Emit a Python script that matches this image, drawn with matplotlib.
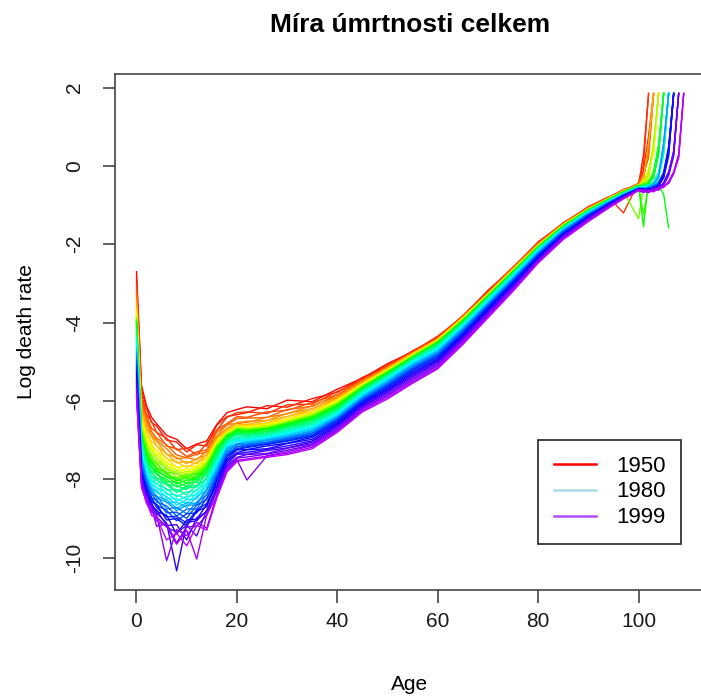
import numpy as np
import matplotlib
matplotlib.use("Agg")
import matplotlib.pyplot as plt
from matplotlib.colors import hsv_to_rgb
from matplotlib.lines import Line2D

plt.rcParams['font.family'] = ['Liberation Sans', 'DejaVu Sans']
plt.rcParams['axes.unicode_minus'] = False

# años y edades
years = list(range(1950, 2000))
ages_child = [0, 1, 2, 3, 4, 6, 8, 10, 12, 14, 16, 18, 20]
ages_adult = [22, 26, 30, 35, 40, 45, 50, 55, 60, 65, 70, 75, 80, 85, 90]
ages_old = [94, 97, 100, 101, 102, 103, 104, 105, 106, 107, 108, 109]

# log tasa de mortalidad, una fila por año (1950..1999)
rate_child = [
    [-2.70, -5.60, -6.13, -6.42, -6.58, -6.88, -6.98, -7.22, -7.10, -7.02, -6.60, -6.30, -6.22],
    [-2.85, -5.72, -6.18, -6.55, -6.64, -7.00, -7.05, -7.30, -7.12, -7.15, -6.62, -6.40, -6.35],
    [-2.98, -5.82, -6.35, -6.52, -6.80, -6.95, -7.25, -7.20, -7.38, -7.08, -6.75, -6.42, -6.30],
    [-3.10, -5.95, -6.40, -6.70, -6.80, -7.15, -7.22, -7.42, -7.30, -7.25, -6.74, -6.58, -6.40],
    [-3.20, -6.05, -6.44, -6.78, -6.95, -7.12, -7.38, -7.45, -7.36, -7.30, -6.80, -6.62, -6.45],
    [-3.32, -6.12, -6.52, -6.86, -7.00, -7.22, -7.48, -7.45, -7.50, -7.28, -6.90, -6.60, -6.58],
    [-3.42, -6.20, -6.60, -6.92, -7.02, -7.36, -7.44, -7.60, -7.48, -7.38, -6.92, -6.70, -6.55],
    [-3.50, -6.28, -6.72, -6.90, -7.15, -7.35, -7.58, -7.55, -7.60, -7.36, -6.98, -6.72, -6.62],
    [-3.60, -6.35, -6.80, -7.05, -7.14, -7.48, -7.55, -7.70, -7.56, -7.45, -7.00, -6.76, -6.65],
    [-3.68, -6.45, -6.85, -7.12, -7.28, -7.46, -7.70, -7.66, -7.68, -7.44, -7.05, -6.80, -6.62],
    [-3.76, -6.52, -6.88, -7.20, -7.26, -7.60, -7.68, -7.82, -7.65, -7.54, -7.02, -6.82, -6.70],
    [-3.80, -6.55, -6.98, -7.18, -7.40, -7.55, -7.80, -7.74, -7.76, -7.50, -7.10, -6.84, -6.66],
    [-3.82, -6.60, -7.02, -7.28, -7.35, -7.68, -7.75, -7.88, -7.70, -7.58, -7.08, -6.80, -6.72],
    [-3.86, -6.64, -7.08, -7.26, -7.48, -7.64, -7.88, -7.80, -7.82, -7.55, -7.14, -6.86, -6.68],
    [-3.88, -6.68, -7.12, -7.38, -7.45, -7.76, -7.80, -7.95, -7.75, -7.64, -7.12, -6.88, -6.74],
    [-3.90, -6.72, -7.14, -7.44, -7.55, -7.72, -7.95, -7.86, -7.88, -7.60, -7.18, -6.85, -6.75],
    [-3.93, -6.75, -7.22, -7.40, -7.62, -7.82, -7.86, -8.00, -7.80, -7.68, -7.14, -6.90, -6.70],
    [-3.95, -6.78, -7.20, -7.52, -7.58, -7.88, -7.98, -7.90, -7.95, -7.62, -7.20, -6.86, -6.76],
    [-3.97, -6.80, -7.30, -7.50, -7.70, -7.82, -8.04, -7.92, -7.85, -7.72, -7.16, -6.92, -6.72],
    [-3.98, -6.84, -7.34, -7.54, -7.72, -7.86, -8.05, -7.96, -7.98, -7.66, -7.24, -6.88, -6.77],
    [-4.00, -6.86, -7.38, -7.58, -7.76, -7.95, -7.98, -8.10, -7.88, -7.76, -7.20, -6.93, -6.74],
    [-4.06, -6.90, -7.36, -7.68, -7.80, -7.92, -8.12, -8.02, -8.00, -7.74, -7.28, -6.90, -6.80],
    [-4.12, -6.92, -7.46, -7.66, -7.84, -8.06, -8.08, -8.18, -7.96, -7.82, -7.26, -6.96, -6.78],
    [-4.16, -6.95, -7.50, -7.70, -7.88, -8.00, -8.20, -8.10, -8.08, -7.80, -7.35, -6.94, -6.84],
    [-4.22, -6.98, -7.54, -7.80, -7.85, -8.14, -8.16, -8.26, -8.02, -7.90, -7.32, -6.98, -6.82],
    [-4.26, -7.02, -7.52, -7.84, -7.96, -8.10, -8.30, -8.18, -8.16, -7.86, -7.40, -7.00, -6.86],
    [-4.31, -7.06, -7.64, -7.82, -8.02, -8.14, -8.34, -8.22, -8.20, -7.96, -7.44, -7.03, -6.86],
    [-4.36, -7.12, -7.62, -7.95, -8.00, -8.28, -8.26, -8.40, -8.15, -8.00, -7.45, -7.06, -6.92],
    [-4.40, -7.16, -7.74, -7.92, -8.12, -8.24, -8.45, -8.32, -8.30, -7.98, -7.52, -7.08, -6.92],
    [-4.46, -7.22, -7.78, -8.04, -8.10, -8.38, -8.40, -8.50, -8.26, -8.10, -7.55, -7.10, -6.98],
    [-4.50, -7.26, -7.84, -8.02, -8.22, -8.34, -8.55, -8.44, -8.40, -8.08, -7.60, -7.12, -6.96],
    [-4.57, -7.32, -7.80, -8.14, -8.20, -8.48, -8.50, -8.62, -8.36, -8.18, -7.60, -7.16, -7.02],
    [-4.63, -7.36, -7.92, -8.12, -8.34, -8.44, -8.66, -8.52, -8.50, -8.15, -7.68, -7.18, -7.02],
    [-4.68, -7.42, -7.90, -8.25, -8.28, -8.60, -8.58, -8.72, -8.44, -8.28, -7.68, -7.22, -7.08],
    [-4.75, -7.46, -8.00, -8.22, -8.44, -8.52, -8.74, -8.60, -8.62, -8.24, -7.76, -7.20, -7.10],
    [-4.80, -7.52, -8.04, -8.28, -8.48, -8.58, -8.80, -8.66, -8.66, -8.28, -7.80, -7.26, -7.12],
    [-4.88, -7.58, -8.00, -8.40, -8.42, -8.76, -8.72, -8.88, -8.58, -8.40, -7.84, -7.30, -7.10],
    [-4.97, -7.64, -8.12, -8.35, -8.58, -8.68, -8.94, -8.76, -8.76, -8.38, -7.90, -7.34, -7.16],
    [-5.05, -7.70, -8.16, -8.48, -8.52, -8.86, -8.84, -9.00, -8.66, -8.52, -7.92, -7.38, -7.18],
    [-5.12, -7.76, -8.14, -8.52, -8.66, -8.80, -9.06, -8.88, -8.86, -8.48, -7.98, -7.40, -7.22],
    [-5.20, -7.82, -8.24, -8.46, -8.72, -8.96, -8.95, -9.12, -8.78, -8.62, -8.02, -7.42, -7.24],
    [-5.28, -7.85, -8.30, -8.58, -8.64, -9.04, -9.00, -9.20, -8.82, -8.70, -8.04, -7.48, -7.25],
    [-5.36, -7.90, -8.28, -8.64, -8.82, -8.92, -9.40, -9.04, -9.02, -8.64, -8.14, -7.52, -7.32],
    [-5.44, -7.94, -8.40, -8.60, -8.86, -9.12, -10.34, -9.10, -9.06, -8.80, -8.20, -7.56, -7.35],
    [-5.52, -7.98, -8.36, -8.72, -8.78, -9.18, -9.16, -9.55, -8.98, -8.84, -8.24, -7.62, -7.36],
    [-5.60, -8.02, -8.50, -8.66, -8.96, -9.22, -9.36, -9.18, -9.45, -8.78, -8.30, -7.66, -7.44],
    [-5.68, -8.06, -8.54, -8.70, -9.20, -9.14, -9.62, -9.22, -9.20, -8.92, -8.30, -7.70, -7.46],
    [-5.76, -8.12, -8.50, -8.84, -8.90, -10.08, -9.28, -9.44, -9.10, -9.25, -8.40, -7.74, -7.50],
    [-5.84, -8.16, -8.62, -8.78, -9.06, -9.20, -9.66, -9.30, -10.04, -8.90, -8.44, -7.78, -7.52],
    [-5.90, -8.22, -8.58, -8.92, -8.98, -9.55, -9.38, -9.70, -9.18, -9.30, -8.48, -7.82, -7.55],
]

rate_adult = [
    [-6.15, -6.20, -5.98, -6.02, -5.70, -5.42, -5.05, -4.74, -4.35, -3.84, -3.18, -2.60, -1.94, -1.47, -1.04],
    [-6.30, -6.12, -6.16, -5.94, -5.78, -5.40, -5.12, -4.72, -4.40, -3.82, -3.22, -2.58, -1.97, -1.45, -1.07],
    [-6.28, -6.32, -6.10, -6.08, -5.76, -5.46, -5.08, -4.76, -4.37, -3.85, -3.21, -2.61, -1.96, -1.48, -1.05],
    [-6.42, -6.28, -6.24, -6.04, -5.84, -5.45, -5.13, -4.75, -4.38, -3.86, -3.23, -2.59, -1.99, -1.46, -1.08],
    [-6.44, -6.42, -6.22, -6.14, -5.84, -5.50, -5.12, -4.77, -4.40, -3.84, -3.24, -2.62, -1.98, -1.48, -1.06],
    [-6.55, -6.42, -6.33, -6.12, -5.89, -5.49, -5.15, -4.78, -4.41, -3.86, -3.25, -2.62, -2.01, -1.49, -1.08],
    [-6.52, -6.50, -6.32, -6.20, -5.91, -5.51, -5.16, -4.78, -4.42, -3.86, -3.26, -2.63, -2.00, -1.49, -1.09],
    [-6.60, -6.50, -6.40, -6.20, -5.94, -5.54, -5.17, -4.79, -4.43, -3.88, -3.26, -2.64, -2.02, -1.49, -1.09],
    [-6.62, -6.56, -6.40, -6.26, -5.96, -5.55, -5.19, -4.81, -4.44, -3.89, -3.27, -2.65, -2.02, -1.50, -1.10],
    [-6.64, -6.58, -6.46, -6.28, -5.97, -5.57, -5.20, -4.82, -4.45, -3.89, -3.28, -2.65, -2.03, -1.50, -1.10],
    [-6.68, -6.60, -6.50, -6.31, -6.01, -5.58, -5.21, -4.83, -4.46, -3.90, -3.29, -2.66, -2.04, -1.51, -1.11],
    [-6.66, -6.65, -6.48, -6.33, -6.00, -5.60, -5.22, -4.83, -4.47, -3.91, -3.29, -2.67, -2.03, -1.51, -1.10],
    [-6.70, -6.62, -6.52, -6.34, -6.03, -5.61, -5.22, -4.84, -4.47, -3.92, -3.29, -2.67, -2.04, -1.51, -1.11],
    [-6.69, -6.67, -6.53, -6.33, -6.04, -5.61, -5.23, -4.84, -4.47, -3.92, -3.30, -2.67, -2.04, -1.52, -1.11],
    [-6.72, -6.66, -6.55, -6.36, -6.05, -5.62, -5.24, -4.85, -4.48, -3.93, -3.30, -2.68, -2.05, -1.51, -1.11],
    [-6.74, -6.68, -6.56, -6.37, -6.06, -5.63, -5.25, -4.86, -4.48, -3.93, -3.31, -2.68, -2.05, -1.52, -1.12],
    [-6.73, -6.70, -6.55, -6.38, -6.08, -5.63, -5.25, -4.86, -4.49, -3.94, -3.31, -2.69, -2.06, -1.53, -1.11],
    [-6.75, -6.69, -6.57, -6.40, -6.09, -5.64, -5.26, -4.87, -4.49, -3.94, -3.31, -2.69, -2.06, -1.53, -1.12],
    [-6.74, -6.71, -6.56, -6.40, -6.10, -5.65, -5.27, -4.87, -4.50, -3.94, -3.32, -2.69, -2.06, -1.53, -1.12],
    [-6.76, -6.72, -6.58, -6.41, -6.11, -5.65, -5.27, -4.88, -4.50, -3.95, -3.32, -2.70, -2.07, -1.54, -1.12],
    [-6.77, -6.71, -6.59, -6.43, -6.12, -5.66, -5.28, -4.89, -4.51, -3.95, -3.33, -2.70, -2.07, -1.54, -1.13],
    [-6.79, -6.73, -6.61, -6.45, -6.13, -5.68, -5.29, -4.90, -4.52, -3.96, -3.34, -2.71, -2.08, -1.55, -1.13],
    [-6.80, -6.77, -6.62, -6.46, -6.16, -5.69, -5.30, -4.90, -4.54, -3.97, -3.34, -2.72, -2.08, -1.55, -1.13],
    [-6.82, -6.78, -6.65, -6.48, -6.18, -5.70, -5.32, -4.91, -4.54, -3.98, -3.35, -2.72, -2.09, -1.56, -1.14],
    [-6.85, -6.80, -6.66, -6.50, -6.20, -5.71, -5.33, -4.92, -4.56, -3.99, -3.36, -2.73, -2.10, -1.56, -1.14],
    [-6.87, -6.81, -6.69, -6.53, -6.22, -5.73, -5.34, -4.93, -4.57, -4.00, -3.37, -2.74, -2.10, -1.57, -1.15],
    [-6.88, -6.85, -6.70, -6.55, -6.24, -5.74, -5.36, -4.94, -4.59, -4.02, -3.38, -2.75, -2.11, -1.58, -1.15],
    [-6.92, -6.85, -6.74, -6.57, -6.26, -5.76, -5.37, -4.96, -4.60, -4.03, -3.39, -2.76, -2.12, -1.58, -1.16],
    [-6.93, -6.89, -6.75, -6.61, -6.28, -5.78, -5.39, -4.97, -4.62, -4.05, -3.41, -2.77, -2.13, -1.59, -1.17],
    [-6.96, -6.90, -6.78, -6.62, -6.30, -5.80, -5.40, -4.99, -4.64, -4.06, -3.42, -2.79, -2.14, -1.59, -1.17],
    [-6.99, -6.93, -6.80, -6.66, -6.32, -5.82, -5.42, -5.01, -4.66, -4.08, -3.44, -2.80, -2.15, -1.60, -1.18],
    [-7.00, -6.95, -6.83, -6.68, -6.34, -5.84, -5.44, -5.02, -4.68, -4.10, -3.45, -2.82, -2.16, -1.61, -1.19],
    [-7.03, -6.96, -6.86, -6.70, -6.36, -5.86, -5.46, -5.04, -4.70, -4.12, -3.47, -2.83, -2.18, -1.62, -1.20],
    [-7.04, -6.99, -6.87, -6.73, -6.38, -5.88, -5.48, -5.06, -4.72, -4.13, -3.49, -2.85, -2.19, -1.63, -1.20],
    [-7.07, -7.00, -6.90, -6.76, -6.40, -5.90, -5.50, -5.08, -4.74, -4.15, -3.50, -2.86, -2.21, -1.64, -1.21],
    [-7.09, -7.01, -6.93, -6.78, -6.42, -5.92, -5.53, -5.10, -4.76, -4.17, -3.52, -2.88, -2.22, -1.65, -1.22],
    [-7.10, -7.05, -6.94, -6.81, -6.44, -5.94, -5.55, -5.13, -4.79, -4.19, -3.54, -2.90, -2.24, -1.66, -1.23],
    [-7.13, -7.06, -6.97, -6.83, -6.46, -5.96, -5.57, -5.15, -4.81, -4.21, -3.56, -2.92, -2.25, -1.68, -1.24],
    [-7.14, -7.09, -6.98, -6.86, -6.48, -5.98, -5.60, -5.17, -4.83, -4.24, -3.58, -2.93, -2.27, -1.69, -1.26],
    [-7.17, -7.10, -7.01, -6.88, -6.50, -6.00, -5.62, -5.20, -4.86, -4.26, -3.60, -2.95, -2.28, -1.71, -1.27],
    [-7.19, -7.11, -7.03, -6.90, -6.52, -6.02, -5.64, -5.22, -4.88, -4.28, -3.62, -2.97, -2.30, -1.72, -1.28],
    [-7.24, -7.15, -7.08, -6.93, -6.56, -6.05, -5.68, -5.26, -4.92, -4.31, -3.65, -3.00, -2.32, -1.74, -1.29],
    [-7.25, -7.22, -7.09, -6.98, -6.59, -6.08, -5.71, -5.30, -4.95, -4.34, -3.68, -3.02, -2.34, -1.76, -1.31],
    [-7.31, -7.24, -7.15, -7.02, -6.62, -6.11, -5.74, -5.33, -4.98, -4.37, -3.70, -3.05, -2.36, -1.77, -1.32],
    [-7.36, -7.27, -7.20, -7.05, -6.65, -6.14, -5.77, -5.37, -5.01, -4.39, -3.73, -3.07, -2.38, -1.79, -1.34],
    [-7.37, -7.34, -7.21, -7.09, -6.68, -6.16, -5.80, -5.40, -5.04, -4.42, -3.76, -3.10, -2.40, -1.80, -1.35],
    [-7.43, -7.36, -7.26, -7.12, -6.72, -6.19, -5.84, -5.44, -5.08, -4.46, -3.79, -3.12, -2.42, -1.82, -1.37],
    [-8.02, -7.40, -7.30, -7.14, -6.75, -6.22, -5.87, -5.48, -5.11, -4.49, -3.82, -3.15, -2.44, -1.84, -1.39],
    [-7.48, -7.41, -7.34, -7.18, -6.78, -6.25, -5.91, -5.52, -5.15, -4.53, -3.85, -3.17, -2.46, -1.86, -1.40],
    [-7.51, -7.44, -7.37, -7.22, -6.80, -6.28, -5.95, -5.55, -5.18, -4.56, -3.88, -3.20, -2.48, -1.88, -1.42],
]

# cada fila termina en la última edad con datos
rate_old = [
    [-0.80, -0.62, -0.45, -0.12, 0.75, 1.85],
    [-0.82, -0.60, -0.50, 0.30, 1.84],
    [-0.79, -1.20, -0.42, 0.05, 1.86],
    [-0.83, -0.64, -0.48, -0.30, 0.40, 1.85],
    [-0.81, -0.66, -0.44, -0.20, 0.20, 1.83],
    [-0.84, -0.63, -0.52, -0.35, 0.55, 1.85],
    [-0.82, -0.65, -0.46, -0.55, -0.20, 0.45, 1.86],
    [-0.85, -0.62, -0.50, -0.30, 0.60, 1.84],
    [-0.83, -0.66, -0.48, -0.40, -0.10, 0.35, 1.85],
    [-0.84, -0.64, -0.52, -0.45, -0.25, 0.50, 1.85],
    [-0.86, -0.66, -0.49, -0.60, -0.05, 0.30, 1.86],
    [-0.83, -0.65, -0.53, -0.35, -0.30, 0.55, 1.84],
    [-0.85, -0.67, -0.50, -0.45, -0.15, 0.40, 1.85],
    [-0.84, -0.64, -0.55, -0.50, -0.40, -0.20, 0.35, 1.85],
    [-0.86, -0.66, -0.51, -0.40, -0.20, 0.60, 1.83],
    [-0.85, -0.68, -0.48, -0.55, -0.45, -0.10, 0.45, 1.86],
    [-0.87, -0.65, -1.35, -0.50, -0.35, -0.25, 0.30, 1.85],
    [-0.84, -0.67, -0.52, -0.60, -0.40, -0.15, 0.50, 1.84],
    [-0.86, -0.66, -0.50, -1.25, -0.45, -0.30, 0.40, 1.85],
    [-0.85, -0.68, -0.54, -0.45, -0.50, -0.20, 0.55, 1.86],
    [-0.87, -0.66, -0.51, -1.55, -0.40, -0.25, 0.35, 1.85],
    [-0.86, -0.68, -0.53, -0.50, -0.55, -0.45, -0.50, -0.72, -1.58],
    [-0.88, -0.67, -0.50, -0.58, -0.42, -0.30, 0.30, 1.85],
    [-0.87, -0.69, -0.54, -0.48, -0.55, -0.45, -0.20, 0.40, 1.85],
    [-0.89, -0.68, -0.52, -0.55, -0.45, -0.20, 0.50, 1.84],
    [-0.88, -0.70, -0.53, -0.60, -0.50, -0.40, -0.25, 0.30, 1.86],
    [-0.89, -0.69, -0.55, -0.52, -0.58, -0.45, -0.15, 0.45, 1.85],
    [-0.90, -0.71, -0.54, -0.58, -0.50, -0.48, -0.30, 0.35, 1.85],
    [-0.89, -0.70, -0.56, -0.50, -0.62, -0.40, -0.20, 0.55, 1.84],
    [-0.91, -0.72, -0.54, -0.60, -0.52, -0.50, -0.25, 0.40, 1.86],
    [-0.90, -0.71, -0.55, -0.56, -0.48, -0.55, -0.30, 0.30, 1.85],
    [-0.92, -0.72, -0.57, -0.52, -0.60, -0.45, -0.20, 0.50, 1.85],
    [-0.91, -0.73, -0.55, -0.58, -0.55, -0.50, -0.45, -0.25, 0.35, 1.84],
    [-0.93, -0.72, -0.56, -0.62, -0.50, -0.52, -0.22, 0.45, 1.86],
    [-0.92, -0.74, -0.58, -0.55, -0.60, -0.48, -0.50, -0.20, 0.40, 1.85],
    [-0.93, -0.73, -0.56, -0.60, -0.55, -0.45, -0.30, 0.60, 1.85],
    [-0.94, -0.75, -0.57, -0.56, -0.62, -0.50, -0.45, -0.30, 0.30, 1.86],
    [-0.95, -0.74, -0.59, -0.62, -0.55, -0.58, -0.40, -0.20, 0.45, 1.85],
    [-0.96, -0.76, -0.57, -0.58, -0.60, -0.52, -0.50, -0.25, 0.35, 1.84],
    [-0.97, -0.75, -0.58, -0.64, -0.56, -0.60, -0.45, -0.15, 0.50, 1.85],
    [-0.97, -0.76, -0.58, -0.60, -0.62, -0.55, -0.50, -0.30, 0.25, 1.86],
    [-0.98, -0.77, -0.59, -0.63, -0.58, -0.60, -0.48, -0.22, 0.40, 1.85],
    [-0.99, -0.77, -0.60, -0.58, -0.65, -0.56, -0.55, -0.45, -0.20, 0.30, 1.85],
    [-1.00, -0.78, -0.59, -0.65, -0.60, -0.58, -0.52, -0.28, 0.45, 1.84],
    [-1.01, -0.79, -0.61, -0.62, -0.66, -0.55, -0.58, -0.42, -0.15, 0.35, 1.86],
    [-1.02, -0.80, -0.60, -0.66, -0.60, -0.62, -0.50, -0.48, -0.25, 0.25, 1.85],
    [-1.04, -0.81, -0.62, -0.60, -0.68, -0.58, -0.60, -0.45, -0.20, 0.40, 1.85],
    [-1.05, -0.82, -0.61, -0.66, -0.62, -0.64, -0.55, -0.52, -0.40, -0.15, 0.30, 1.84],
    [-1.06, -0.83, -0.63, -0.62, -0.68, -0.60, -0.62, -0.50, -0.45, -0.20, 0.25, 1.86],
    [-1.08, -0.84, -0.63, -0.68, -0.64, -0.66, -0.58, -0.55, -0.42, -0.18, 0.20, 1.85],
]

legend_labels = ["1950", "1980", "1999"]
legend_colors = ["red", "lightblue", "#b04cff"]


def build_matrix():
    n_old = len(ages_old)
    rows = []
    for c, a, o in zip(rate_child, rate_adult, rate_old):
        o = list(o) + [np.nan] * (n_old - len(o))
        rows.append(list(c) + list(a) + o)
    ages = np.array(ages_child + ages_adult + ages_old, dtype=float)
    return ages, np.array(rows, dtype=float)


def main():
    ages, rates = build_matrix()

    W, H = 701, 700
    fig = plt.figure(figsize=(W / 100, H / 100), dpi=100)
    # caja del gráfico en pixeles (el borde derecho queda fuera de la imagen)
    left, right, top, bottom = 114.6, 705.6, 74, 590
    ax = fig.add_axes([left / W, 1 - bottom / H, (right - left) / W, (bottom - top) / H])

    n_col = 62  # rainbow(ny*1.25) recortado
    for i, yr in enumerate(years):
        col = hsv_to_rgb((i / n_col, 1.0, 1.0))
        ax.plot(ages, rates[i], color=col, lw=1.0)

    # límites estilo R (4% extra)
    x0, x1 = np.nanmin(ages), np.nanmax(ages)
    y0, y1 = np.nanmin(rates), np.nanmax(rates)
    ax.set_xlim(x0 - 0.04 * (x1 - x0), x1 + 0.04 * (x1 - x0))
    ax.set_ylim(y0 - 0.04 * (y1 - y0), y1 + 0.04 * (y1 - y0))

    ax.set_xticks(range(0, 101, 20))
    ax.set_yticks(range(-10, 3, 2))
    ax.tick_params(direction='out', length=9, width=1.2, color='#444444',
                   labelsize=15, labelcolor='#1a1a1a')
    ax.tick_params(axis='x', pad=7)
    ax.tick_params(axis='y', pad=13)
    for t in ax.get_yticklabels():
        t.set_rotation(90)
        t.set_va('center')
    for s in ax.spines.values():
        s.set_linewidth(1.2)
        s.set_color('#444444')

    handles = [Line2D([], [], color=c, lw=1.8) for c in legend_colors]
    leg = ax.legend(handles, legend_labels, loc='upper left',
                    bbox_to_anchor=(538 / W, 1 - 440 / H), bbox_transform=fig.transFigure,
                    borderaxespad=0, fancybox=False, framealpha=1, edgecolor='#333333',
                    fontsize=16, handlelength=1.9, handletextpad=0.9,
                    labelspacing=0.22, borderpad=0.7)
    leg.get_frame().set_linewidth(1.3)

    fig.text(410 / W, 1 - 25 / H, "Míra úmrtnosti celkem", ha='center', va='center',
             fontsize=19, fontweight='bold')
    fig.text(27 / W, 1 - 332 / H, "Log death rate", rotation=90, ha='center',
             va='center', fontsize=15)
    fig.text(410 / W, 1 - 685 / H, "Age", ha='center', va='center', fontsize=15)

    fig.savefig("out.png", dpi=100)


if __name__ == "__main__":
    main()
